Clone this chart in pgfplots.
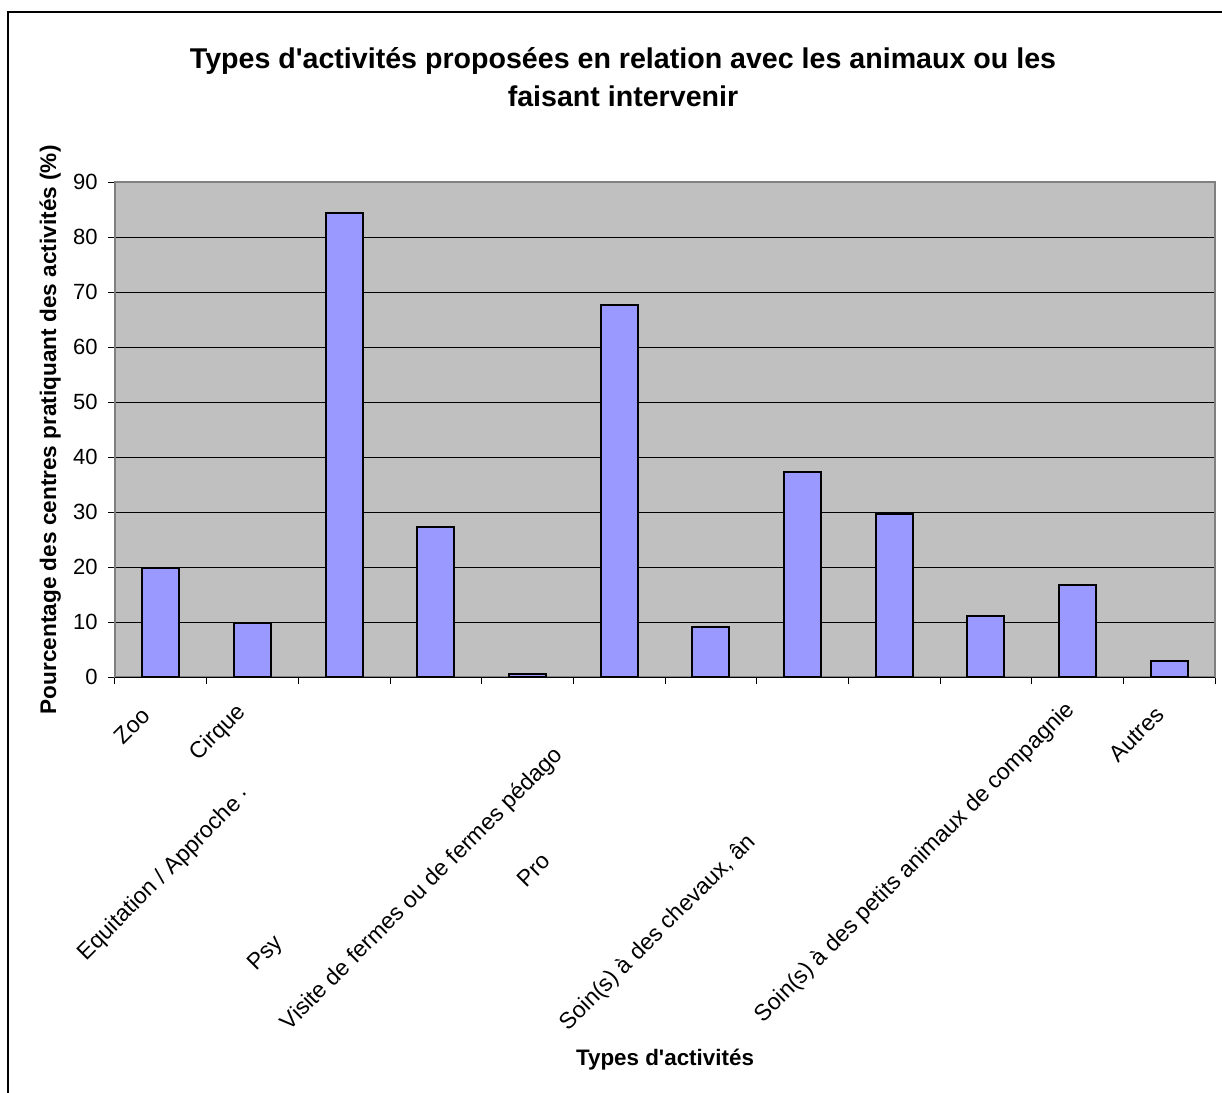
\documentclass[border=0pt]{standalone}
\usepackage{pgfplots}
\pgfplotsset{compat=1.18}
\usepackage{fontspec}
\setmainfont{Liberation Sans}
\definecolor{plotbg}{HTML}{C0C0C0}
\definecolor{barfill}{HTML}{9999FF}
\definecolor{bordergray}{HTML}{808080}
% label placed at offset (dx,dy) in reference pixels from the tick point (y up)
\newcommand{\lab}[3]{\pgfmathsetmacro\labu{((#1)+(#2))*0.35355}\pgfmathsetmacro\labv{((#2)-(#1))*0.35355}\makebox[0pt][l]{\hspace{\labu pt}\raisebox{\labv pt}{#3}}}
\begin{document}
\begin{tikzpicture}
\useasboundingbox (0,0) rectangle (611pt,-546.5pt);
\draw[line width=1pt] (4pt,-600pt) -- (4pt,-6pt) -- (700pt,-6pt);
\node[font=\fontsize{14.3}{17}\selectfont\bfseries, anchor=base] at (311.5pt,-34pt) {Types d\textquotesingle activités proposées en relation avec les animaux ou les};
\node[font=\fontsize{14.3}{17}\selectfont\bfseries, anchor=base] at (311.5pt,-53pt) {faisant intervenir};
\begin{axis}[
  at={(57.5pt,-338.65pt)}, anchor=south west,
  scale only axis, width=550pt, height=247.5pt,
  xmin=-0.5, xmax=11.5, ymin=0, ymax=90,
  ytick={0,10,...,90},
  ymajorgrids, grid style={black, line width=0.5pt},
  axis background/.style={fill=plotbg},
  axis line style={draw=bordergray, line width=1pt},
  ybar, bar width=18.5pt,
  xtick={0,...,11},
  minor xtick={-0.5,0.5,...,11.5},
  major x tick style={draw=none},
  minor x tick style={black, line width=0.5pt},
  y tick style={black, line width=0.5pt},
  tick align=outside, tick pos=left,
  major tick length=3.5pt, minor tick length=3.5pt,
  /pgf/number format/assume math mode=true,
  yticklabel style={font=\fontsize{11}{13}\selectfont, inner sep=0pt, xshift=-5pt},
  xticklabel style={font=\fontsize{11.5}{13}\selectfont, rotate=45, anchor=base west, inner sep=0pt, xshift=3pt, yshift=-0.9pt},
  xticklabels={
    {\lab{-43.8}{-64.7}{Zoo}},
    {\lab{-60.5}{-80.7}{Cirque}},
    {\lab{-264.1}{-280.7}{Equitation / Approche ·}},
    {\lab{-185.8}{-290.7}{Psy}},
    {\lab{-244.5}{-350.7}{Visite de fermes ou de fermes pédago}},
    {\lab{-99.2}{-207.7}{Pro}},
    {},
    {\lab{-240.5}{-350.7}{Soin(s) à des chevaux, ân}},
    {},
    {},
    {\lab{-320.5}{-342.7}{Soin(s) à des petits animaux de compagnie}},
    {\lab{-57.2}{-82.7}{Autres}}
  },
  xlabel={Types d\textquotesingle activités},
  xlabel style={at={(rel axis cs:0.5,-0.785)}, anchor=base, font=\fontsize{11.2}{13}\selectfont\bfseries},
  ylabel={Pourcentage des centres pratiquant des activités (\%)},
  ylabel style={at={(rel axis cs:-0.0536,0.5)}, anchor=base, font=\fontsize{11.3}{13}\selectfont\bfseries},
  clip=false,
]
\addplot[fill=barfill, draw=black, line width=1pt] coordinates {
  (0,19.8) (1,9.8) (2,84.5) (3,27.3) (4,0.6) (5,67.7)
  (6,9.2) (7,37.3) (8,29.7) (9,11.1) (10,16.7) (11,3.0)
};
\draw[black, line width=0.8pt] (rel axis cs:0,0) -- (rel axis cs:1,0);
\end{axis}
\end{tikzpicture}
\end{document}
